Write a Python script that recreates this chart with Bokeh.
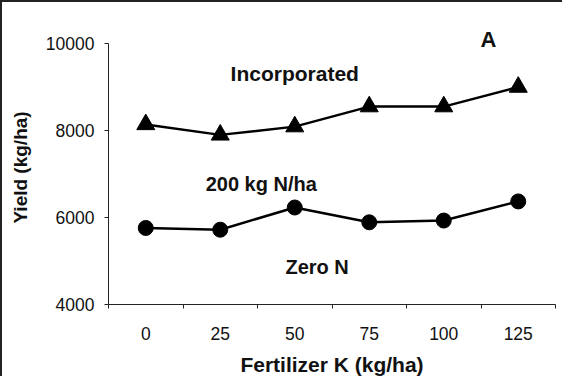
from bokeh.plotting import figure
from bokeh.models import Range1d, FixedTicker, Label
from bokeh.embed import file_html
from bokeh.resources import INLINE

# ---- data ----
k_levels = ["0", "25", "50", "75", "100", "125"]
incorporated = [8140, 7900, 8090, 8550, 8550, 9000]
zero_n = [5760, 5720, 6230, 5890, 5930, 6370]
y_ticks = [4000, 6000, 8000, 10000]
x_title = "Fertilizer K (kg/ha)"
y_title = "Yield (kg/ha)"

FONT = "Liberation Sans"

xs = [i + 0.5 for i in range(len(k_levels))]

p = figure(width=562, height=376, output_backend="svg", toolbar_location=None,
           x_range=Range1d(0, len(k_levels)), y_range=Range1d(4000, 10300),
           min_border_left=106, min_border_right=9, min_border_top=28,
           min_border_bottom=71)
p.outline_line_color = None
p.grid.visible = False
p.background_fill_color = "white"
p.border_fill_color = "white"
p.styles = {"border-left": "2px solid #222", "border-top": "2px solid #222"}

# y axis
ya = p.yaxis[0]
ya.ticker = FixedTicker(ticks=y_ticks)
ya.bounds = (4000, 10000)
ya.major_tick_out = 4
ya.major_tick_in = 0
ya.minor_tick_out = 0
ya.minor_tick_in = 0
ya.axis_line_color = "#222"
ya.major_tick_line_color = "#222"
ya.major_label_text_font = FONT
ya.major_label_text_font_size = "17.5px"
ya.major_label_text_color = "#111"
ya.major_label_standoff = 10
ya.axis_label = y_title
ya.axis_label_text_font = FONT
ya.axis_label_text_font_style = "bold"
ya.axis_label_text_font_size = "19px"
ya.axis_label_text_color = "#111"
ya.axis_label_standoff = 12

# x axis
xa = p.xaxis[0]
xa.ticker = FixedTicker(ticks=xs, minor_ticks=list(range(len(k_levels) + 1)))
xa.major_label_overrides = {x: lbl for x, lbl in zip(xs, k_levels)}
xa.major_tick_out = 0
xa.major_tick_in = 0
xa.minor_tick_out = 4
xa.minor_tick_in = 0
xa.axis_line_color = "#222"
xa.minor_tick_line_color = "#222"
xa.major_label_text_font = FONT
xa.major_label_text_font_size = "17.5px"
xa.major_label_text_color = "#111"
xa.major_label_standoff = 18
xa.axis_label = x_title
xa.axis_label_text_font = FONT
xa.axis_label_text_font_style = "bold"
xa.axis_label_text_font_size = "21px"
xa.axis_label_text_color = "#111"
xa.axis_label_standoff = 10

# series
p.line(xs, incorporated, line_width=2.5, color="black")
p.scatter(xs, incorporated, marker="triangle", size=18, color="black")
p.line(xs, zero_n, line_width=2.5, color="black")
p.scatter(xs, zero_n, marker="circle", size=15, color="black")

# annotations
annots = [
    (2.5, 9320, "Incorporated", "21px"),
    (2.05, 6780, "200 kg N/ha", "20px"),
    (2.8, 4870, "Zero N", "20px"),
    (5.1, 10100, "A", "22px"),
]
for ax, ay, txt, fs in annots:
    p.add_layout(Label(x=ax, y=ay, text=txt, text_align="center",
                       text_baseline="middle", text_font=FONT,
                       text_font_style="bold", text_font_size=fs,
                       text_color="#111"))

open("out.html", "w").write(file_html(p, INLINE))
